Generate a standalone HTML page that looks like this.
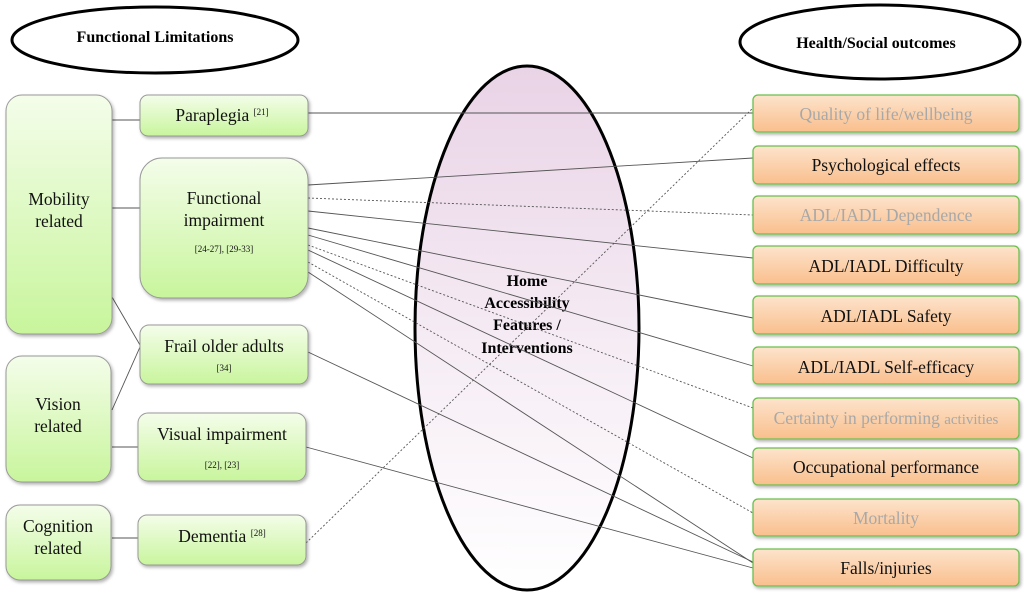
<!DOCTYPE html>
<html><head><meta charset="utf-8"><style>
html,body{margin:0;padding:0;background:#fff;}
svg{display:block;}
text{font-family:"Liberation Serif",serif;}
</style></head><body>
<svg width="1024" height="592" viewBox="0 0 1024 592" xmlns="http://www.w3.org/2000/svg">
<defs>
<linearGradient id="g" x1="0" y1="0" x2="0" y2="1"><stop offset="0" stop-color="#f4fdea"/><stop offset="1" stop-color="#c8f59c"/></linearGradient>
<linearGradient id="o" x1="0" y1="0" x2="0" y2="1"><stop offset="0" stop-color="#fde3cc"/><stop offset="1" stop-color="#f9bf8c"/></linearGradient>
<linearGradient id="p" x1="0" y1="0" x2="0" y2="1"><stop offset="0" stop-color="#e9d3e6"/><stop offset="0.6" stop-color="#f7eff6"/><stop offset="1" stop-color="#ffffff"/></linearGradient>
<filter id="s" x="-10%" y="-10%" width="130%" height="130%"><feDropShadow dx="1.5" dy="2" stdDeviation="1.5" flood-color="#000" flood-opacity="0.3"/></filter>
</defs>
<ellipse cx="527" cy="328" rx="112" ry="262" fill="url(#p)" stroke="#000" stroke-width="3"/>
<ellipse cx="155" cy="40" rx="143" ry="33" fill="#fff" stroke="#000" stroke-width="3"/>
<ellipse cx="880" cy="42" rx="140" ry="37" fill="#fff" stroke="#000" stroke-width="3"/>
<text x="155" y="42" font-size="16" font-weight="bold" text-anchor="middle">Functional Limitations</text>
<text x="876" y="48" font-size="16" font-weight="bold" text-anchor="middle">Health/Social outcomes</text>
<g font-size="16" font-weight="bold" text-anchor="middle">
<text x="527" y="286">Home</text><text x="527" y="308">Accessibility</text><text x="527" y="330">Features /</text><text x="527" y="353">Interventions</text></g>
<g stroke="#555" stroke-width="0.9" fill="none">
<line x1="112" y1="120" x2="140" y2="120"/><line x1="112" y1="208" x2="140" y2="208"/>
<line x1="112" y1="297" x2="140" y2="345"/><line x1="112" y1="410" x2="140" y2="347"/>
<line x1="112" y1="447" x2="138" y2="447"/><line x1="112" y1="538" x2="138" y2="538"/>
<line x1="308" y1="113" x2="753" y2="113"/>
<line x1="308" y1="185" x2="753" y2="158"/>
<line x1="308" y1="198" x2="753" y2="215" stroke-dasharray="2,2"/>
<line x1="308" y1="211" x2="753" y2="258"/>
<line x1="308" y1="228" x2="753" y2="318"/>
<line x1="308" y1="235" x2="753" y2="366"/>
<line x1="308" y1="245" x2="753" y2="408" stroke-dasharray="2,2"/>
<line x1="308" y1="250" x2="753" y2="458"/>
<line x1="308" y1="262" x2="753" y2="513" stroke-dasharray="2,2"/>
<line x1="308" y1="272" x2="753" y2="563"/>
<line x1="308" y1="352" x2="753" y2="562"/>
<line x1="306" y1="447" x2="753" y2="568"/>
<line x1="306" y1="543" x2="753" y2="108" stroke-dasharray="2,2"/>
</g>
<g fill="url(#g)" stroke="#999" stroke-width="1" filter="url(#s)">
<rect x="6" y="95" width="106" height="239" rx="16"/>
<rect x="6" y="356" width="105" height="126" rx="16"/>
<rect x="6" y="505" width="105" height="75" rx="14"/>
<rect x="140" y="95" width="168" height="41" rx="8"/>
<rect x="140" y="158" width="168" height="140" rx="22"/>
<rect x="140" y="325" width="168" height="59" rx="9"/>
<rect x="138" y="413" width="168" height="68" rx="10"/>
<rect x="138" y="515" width="168" height="50" rx="9"/>
</g>
<g font-size="17.5" text-anchor="middle" fill="#111">
<text x="59" y="205">Mobility</text><text x="59" y="227">related</text>
<text x="58" y="410">Vision</text><text x="58" y="432">related</text>
<text x="58" y="532">Cognition</text><text x="58" y="554">related</text>
<text x="222" y="121">Paraplegia <tspan font-size="9" dy="-6">[21]</tspan></text>
<text x="224" y="204">Functional</text><text x="224" y="226">impairment</text>
<text x="224" y="252" font-size="9">[24-27], [29-33]</text>
<text x="224" y="352">Frail older adults</text><text x="224" y="371" font-size="9">[34]</text>
<text x="222" y="440">Visual impairment</text><text x="222" y="468" font-size="9">[22], [23]</text>
<text x="222" y="542">Dementia <tspan font-size="9" dy="-6">[28]</tspan></text>
</g>
<g fill="url(#o)" stroke="#6cbf4f" stroke-width="1.3" filter="url(#s)">
<rect x="753" y="95" width="266" height="37" rx="5"/>
<rect x="753" y="146" width="266" height="38" rx="5"/>
<rect x="753" y="196" width="266" height="38" rx="5"/>
<rect x="753" y="246" width="266" height="38" rx="5"/>
<rect x="753" y="296" width="266" height="38" rx="5"/>
<rect x="753" y="347" width="266" height="37" rx="5"/>
<rect x="753" y="398" width="266" height="41" rx="5"/>
<rect x="753" y="448" width="266" height="37" rx="5"/>
<rect x="753" y="499" width="266" height="37" rx="5"/>
<rect x="753" y="549" width="266" height="37" rx="5"/>
</g>
<g font-size="17.5" text-anchor="middle" fill="#111">
<text x="886" y="120" fill="#a8a8a8">Quality of life/wellbeing</text>
<text x="886" y="171">Psychological effects</text>
<text x="886" y="221" fill="#a8a8a8">ADL/IADL Dependence</text>
<text x="886" y="272">ADL/IADL Difficulty</text>
<text x="886" y="322">ADL/IADL Safety</text>
<text x="886" y="373">ADL/IADL Self-efficacy</text>
<text x="886" y="424" fill="#a8a8a8">Certainty in performing <tspan font-size="15">activities</tspan></text>
<text x="886" y="473">Occupational performance</text>
<text x="886" y="524" fill="#a8a8a8">Mortality</text>
<text x="886" y="574">Falls/injuries</text>
</g>
</svg>
</body></html>
